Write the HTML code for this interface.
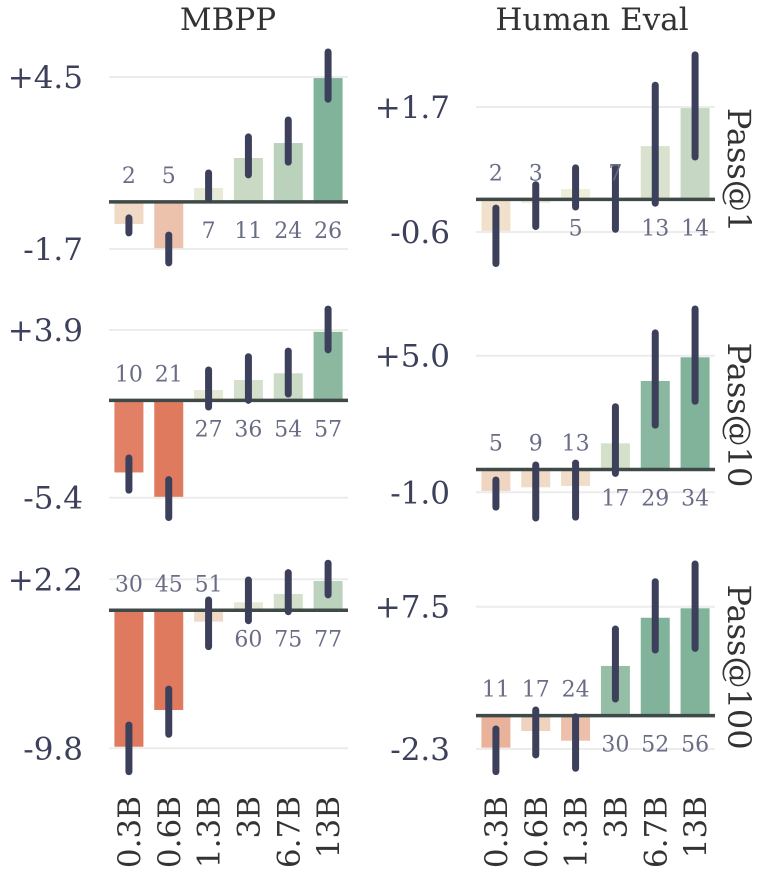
<!DOCTYPE html>
<html><head><meta charset="utf-8">
<style>
html,body{margin:0;padding:0;background:#fff;}
svg{display:block;font-family:"DejaVu Serif","Liberation Serif",serif;}
</style></head>
<body>
<svg id="chart" width="763" height="880" viewBox="0 0 763 880" xmlns="http://www.w3.org/2000/svg">
<text x="228" y="30" font-size="31" fill="#333" text-anchor="middle">MBPP</text>
<text x="592" y="30" font-size="31" fill="#333" text-anchor="middle">Human Eval</text>
<g id="plots"></g>
</svg>
<script>
const categories = ["0.3B","0.6B","1.3B","3B","6.7B","13B"];
const mbpp1Values = [-0.8,-1.67,0.5,1.58,2.12,4.46];
const mbpp1Low = [-1.12,-2.2,0.1,0.97,1.43,3.7];
const mbpp1High = [-0.58,-1.2,1.04,2.34,2.95,5.4];
const mbpp1Counts = [2,5,7,11,24,26];
const he1Values = [-0.58,-0.07,0.19,-0.01,0.98,1.68];
const he1Low = [-1.18,-0.5,-0.14,-0.55,-0.07,0.78];
const he1High = [-0.16,0.27,0.58,0.58,2.1,2.66];
const he1Counts = [2,3,5,7,13,14];
const mbpp10Values = [-4.0,-5.35,0.57,1.13,1.5,3.8];
const mbpp10Low = [-4.98,-6.5,-0.37,0,0.35,2.8];
const mbpp10High = [-3.2,-4.4,1.68,2.42,2.73,5.06];
const mbpp10Counts = [10,21,27,36,54,57];
const he10Values = [-0.94,-0.78,-0.72,1.15,3.89,4.93];
const he10Low = [-1.65,-2.13,-2.09,-0.17,1.95,3.0];
const he10High = [-0.46,0.2,0.28,2.76,6.0,7.05];
const he10Counts = [5,9,13,17,29,34];
const mbpp100Values = [-9.69,-7.08,-0.81,0.57,1.16,2.08];
const mbpp100Low = [-11.46,-8.8,-2.58,-0.74,-0.1,1.09];
const mbpp100High = [-8.15,-5.6,0.73,2.15,2.67,3.34];
const mbpp100Counts = [30,45,51,60,75,77];
const he100Values = [-2.21,-1.06,-1.73,3.42,6.74,7.39];
const he100Low = [-3.86,-2.71,-3.63,1.14,4.52,4.63];
const he100High = [-0.92,0.39,-0.08,5.96,9.22,10.44];
const he100Counts = [11,17,24,30,52,56];
const tickTopLabels = ["+4.5","+1.7","+3.9","+5.0","+2.2","+7.5"];
const tickBotLabels = ["-1.7","-0.6","-5.4","-1.0","-9.8","-2.3"];
const tickTopValues = [4.5,1.7,3.9,5.0,2.2,7.5];
const tickBotValues = [-1.7,-0.6,-5.4,-1.0,-9.8,-2.3];
const rowLabels = ["Pass@1","Pass@10","Pass@100"];

const NS="http://www.w3.org/2000/svg";
const g=document.getElementById('plots');
function mk(tag,attrs,parent){const e=document.createElementNS(NS,tag);for(const k in attrs)e.setAttribute(k,attrs[k]);(parent||g).appendChild(e);return e;}
function mix(a,b,t){const pa=[1,3,5].map(i=>parseInt(a.substr(i,2),16)),pb=[1,3,5].map(i=>parseInt(b.substr(i,2),16));return 'rgb('+pa.map((v,i)=>Math.round(v+(pb[i]-v)*t)).join(',')+')';}
function color(v){const t=Math.min(1,Math.abs(v)/4.2);return v>=0?mix('#f4f1de','#81b29a',t):mix('#f4f1de','#e07a5f',t);}

const panels=[
 {vals:mbpp1Values,lo:mbpp1Low,hi:mbpp1High,cnt:mbpp1Counts,x0:109,yTop:77,yBot:249,name:'mbpp-pass1'},
 {vals:he1Values,lo:he1Low,hi:he1High,cnt:he1Counts,x0:476,yTop:107,yBot:232,name:'humaneval-pass1'},
 {vals:mbpp10Values,lo:mbpp10Low,hi:mbpp10High,cnt:mbpp10Counts,x0:109,yTop:330,yBot:497.7,name:'mbpp-pass10'},
 {vals:he10Values,lo:he10Low,hi:he10High,cnt:he10Counts,x0:476,yTop:355.7,yBot:492.3,name:'humaneval-pass10'},
 {vals:mbpp100Values,lo:mbpp100Low,hi:mbpp100High,cnt:mbpp100Counts,x0:109,yTop:579.3,yBot:748.3,name:'mbpp-pass100'},
 {vals:he100Values,lo:he100Low,hi:he100High,cnt:he100Counts,x0:476,yTop:606.7,yBot:749,name:'humaneval-pass100'}
];
const W=239, step=W/6, bw=29;
panels.forEach((p,pi)=>{
  const tv=tickTopValues[pi], bv=tickBotValues[pi];
  const yS=v=>p.yTop+(tv-v)*(p.yBot-p.yTop)/(tv-bv);
  const xS=i=>p.x0+step*(i+0.5);
  const pg=mk('g',{});
  
  
  [[tv,tickTopLabels[pi]],[bv,tickBotLabels[pi]]].forEach(([v,l])=>{
    const gl=mk('line',{x1:p.x0,x2:p.x0+W,y1:yS(v),y2:yS(v),stroke:'#ececec','stroke-width':2},pg);
    
    
    const tl=mk('text',{x:p.x0-26,y:yS(v)+11,'font-size':31,fill:'#3d405b','text-anchor':'end'},pg);
    tl.textContent=l;
    
    
  });
  const z=yS(0);
  p.vals.forEach((v,i)=>{
    const y1=Math.min(yS(v),z), h=Math.abs(yS(v)-z);
    const r=mk('rect',{x:xS(i)-bw/2,y:y1,width:bw,height:h,fill:color(v)},pg);
    
    
  });
  const zl=mk('line',{x1:p.x0,x2:p.x0+W,y1:z,y2:z,stroke:'#3f4a48','stroke-width':3.5},pg);
  
  
  p.vals.forEach((v,i)=>{
    const e=mk('line',{x1:xS(i),x2:xS(i),y1:yS(p.hi[i]),y2:yS(p.lo[i]),stroke:'#3d405b','stroke-width':7,'stroke-linecap':'round'},pg);
    
    
    const t=mk('text',{x:xS(i),y:v<0?z-19:z+36,'font-size':22,fill:'#6a6c85','text-anchor':'middle'},pg);
    t.textContent=p.cnt[i];
    
    
  });
  if(pi>=4){
    categories.forEach((c,i)=>{
      const t=mk('text',{transform:'translate('+(xS(i)+11)+',796) rotate(-90)','font-size':31,fill:'#333','text-anchor':'end'},pg);
      t.textContent=c;
      
      
    });
  }
  if(pi%2===1){
    const cy=[170,415,667][Math.floor(pi/2)];
    const t=mk('text',{transform:'translate(728,'+cy+') rotate(90)','font-size':32,fill:'#333','text-anchor':'middle'},pg);
    t.textContent=rowLabels[Math.floor(pi/2)];
    
    
  }
});
</script>
</body></html>
